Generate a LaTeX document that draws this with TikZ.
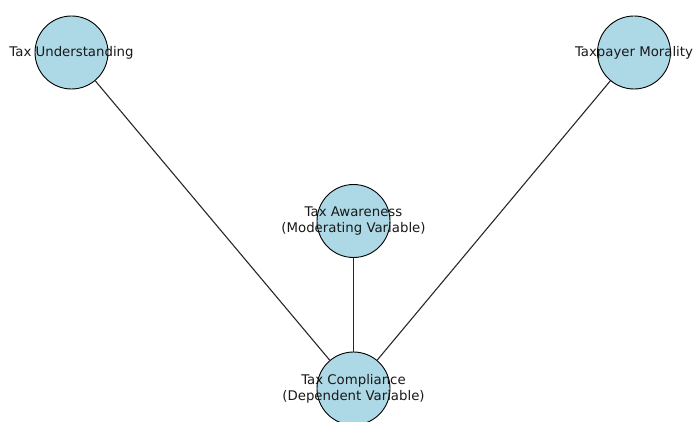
\documentclass[tikz,border=0pt]{standalone}
\usepackage{fontspec}
\setmainfont{DejaVu Sans}
\usepackage{tikz}
\usetikzlibrary{positioning, calc}
\definecolor{nodeblue}{RGB}{173,216,230}
\definecolor{edgedark}{RGB}{40,40,40}
\definecolor{txtdark}{RGB}{25,25,25}
\tikzset{
  var/.style={circle, draw=black, fill=nodeblue, minimum size=73pt, inner sep=0pt, line width=0.9pt},
  lbl/.style={align=center, font=\fontsize{13.3}{16}\selectfont, text=txtdark, inner sep=0pt},
  link/.style={color=edgedark, line width=1.1pt}
}

\begin{document}
\begin{tikzpicture}[x=1pt, y=1pt]
\useasboundingbox (0,0) rectangle (694,421);

% variables
\node[var] (under) at (71.5,368.5) {};
\node[var] (moral) at (634,368.5) {};
\node[var] (aware) at (353.5,200) {};
\node[var] (comply) at (353.5,32.5) {};

% links to the dependent variable
\draw[link] (under) -- (comply);
\draw[link] (moral) -- (comply);
\draw[link] (aware) -- (comply);

% labels
\node[lbl] (underlbl) at (under.center) {Tax Understanding};
\node[lbl] (morallbl) at (moral.center) {Taxpayer Morality};
\node[lbl] (awarelbl) at (aware.center) {Tax Awareness\\(Moderating Variable)};
\node[lbl] (complylbl) at (comply.center) {Tax Compliance\\(Dependent Variable)};
\end{tikzpicture}
\end{document}
